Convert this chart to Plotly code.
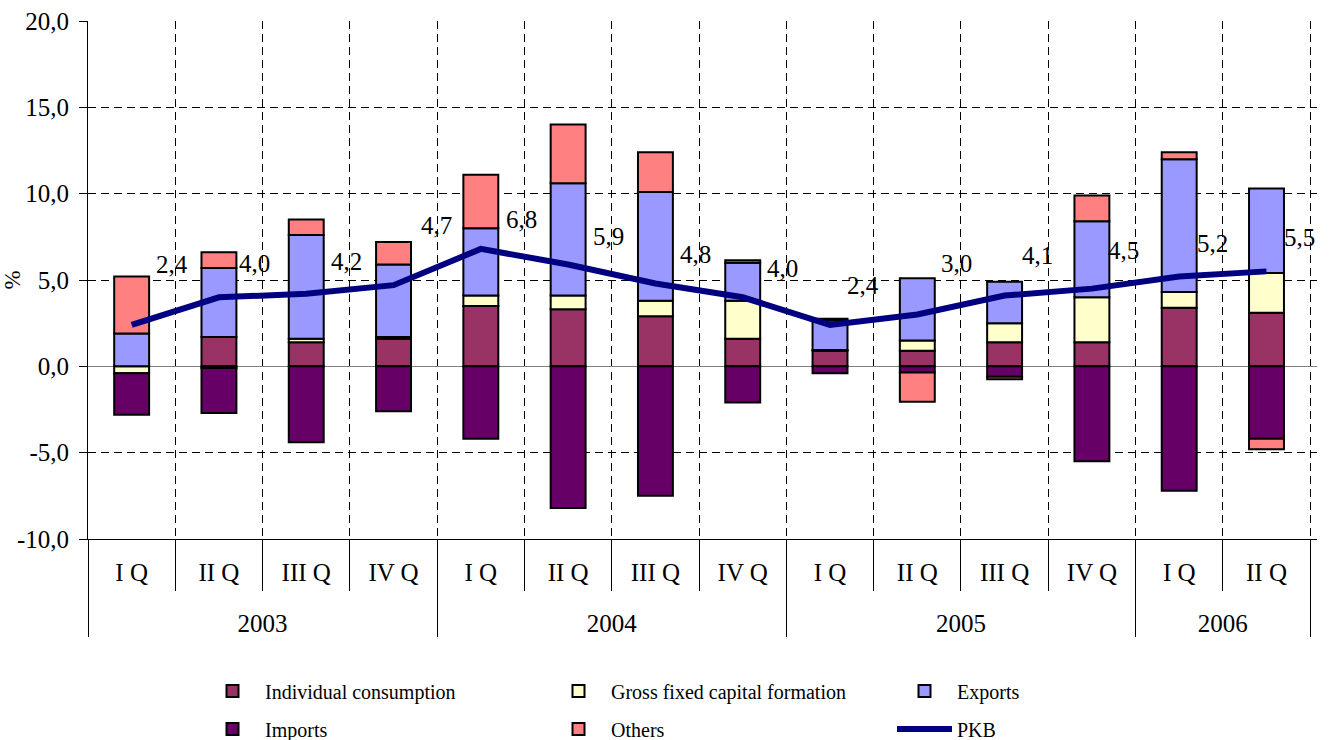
import plotly.graph_objects as go

# ---- data ----
years = ["2003"] * 4 + ["2004"] * 4 + ["2005"] * 4 + ["2006"] * 2
quarters = ["I Q", "II Q", "III Q", "IV Q"] * 3 + ["I Q", "II Q"]

consumption = [0.0, 1.7, 1.4, 1.6, 3.5, 3.3, 2.9, 1.6, 0.9, 0.9, 1.4, 1.4, 3.4, 3.1]
gfcf = [-0.4, -0.1, 0.2, 0.1, 0.6, 0.8, 0.9, 2.2, 0.05, 0.6, 1.1, 2.6, 0.9, 2.3]
exports = [1.9, 4.0, 6.0, 4.2, 3.9, 6.5, 6.3, 2.2, 1.7, 3.6, 2.4, 4.4, 7.7, 4.9]
imports = [-2.4, -2.6, -4.4, -2.6, -4.2, -8.2, -7.5, -2.1, -0.4, -0.35, -0.6, -5.5, -7.2, -4.2]
others = [3.3, 0.9, 0.9, 1.3, 3.1, 3.4, 2.3, 0.15, 0.1, -1.7, -0.15, 1.5, 0.4, -0.6]
pkb = [2.4, 4.0, 4.2, 4.7, 6.8, 5.9, 4.8, 4.0, 2.4, 3.0, 4.1, 4.5, 5.2, 5.5]

y_tickvals = [-10, -5, 0, 5, 10, 15, 20]
y_ticktext = ["-10,0", "-5,0", "0,0", "5,0", "10,0", "15,0", "20,0"]

# label offsets (px) of the PKB value labels relative to their points
label_dx = [40, 36, 40, 43, 41, 40, 40, 40, 33, 39, 33, 32, 33, 33]
label_dy = [60, 34, 32, 60, 29, 28, 29, 29, 39, 51, 40, 38, 33, 34]

FONT = "Liberation Serif, Times New Roman, serif"

x = [["<br>" + y for y in years], quarters]
bar_series = [
    ("Individual consumption", consumption, "#993366", "legend"),
    ("Gross fixed capital formation", gfcf, "#FFFFCC", "legend"),
    ("Exports", exports, "#9999FF", "legend"),
    ("Imports", imports, "#660066", "legend2"),
    ("Others", others, "#FF8080", "legend2"),
]

fig = go.Figure()
for name, vals, color, lg in bar_series:
    fig.add_trace(go.Bar(
        x=x, y=vals, name=name, legend=lg,
        marker=dict(color=color, line=dict(color="black", width=2)),
    ))
fig.add_trace(go.Scatter(
    x=x, y=pkb, name="PKB", mode="lines", legend="legend2",
    line=dict(color="#000080", width=6),
))

for i, v in enumerate(pkb):
    fig.add_annotation(
        x=i, y=v, text=f"{v:.1f}".replace(".", ","), showarrow=False,
        xshift=label_dx[i], yshift=label_dy[i],
        font=dict(family=FONT, size=25, color="black"),
    )

grid = dict(showgrid=True, gridcolor="black", gridwidth=1, griddash="8px,5px")

legend_common = dict(
    orientation="h", x=(200 - 88) / 1229, xanchor="left", yanchor="middle",
    entrywidth=276, entrywidthmode="pixels",
    font=dict(size=20), itemwidth=55, bgcolor="rgba(0,0,0,0)",
)

fig.update_layout(
    template="none",
    width=1332, height=740,
    margin=dict(l=88, r=15, t=21, b=201, autoexpand=False),
    barmode="relative", bargap=0.6,
    plot_bgcolor="white", paper_bgcolor="white",
    font=dict(family=FONT, size=25, color="black"),
    xaxis=dict(
        type="multicategory", tickson="boundaries", ticks="outside",
        ticklen=51, tickcolor="black", tickwidth=1,
        showline=True, linecolor="black", linewidth=1,
        showdividers=True, dividercolor="black", dividerwidth=1,
        tickfont=dict(size=25), automargin=False, ticklabelstandoff=11,
        **grid,
    ),
    yaxis=dict(
        range=[-10, 20], tickvals=y_tickvals, ticktext=y_ticktext,
        ticks="outside", ticklen=8, tickcolor="black",
        showline=True, linecolor="black", linewidth=1,
        zeroline=True, zerolinecolor="#808080", zerolinewidth=1,
        tickfont=dict(size=25), automargin=False, ticklabelstandoff=5,
        title=dict(text="%", font=dict(size=23), standoff=8),
        **grid,
    ),
    legend=dict(y=-(691 - 539) / 518, **legend_common),
    legend2=dict(y=-(729 - 539) / 518, **legend_common),
    showlegend=True,
)

fig.write_html("out.html")
